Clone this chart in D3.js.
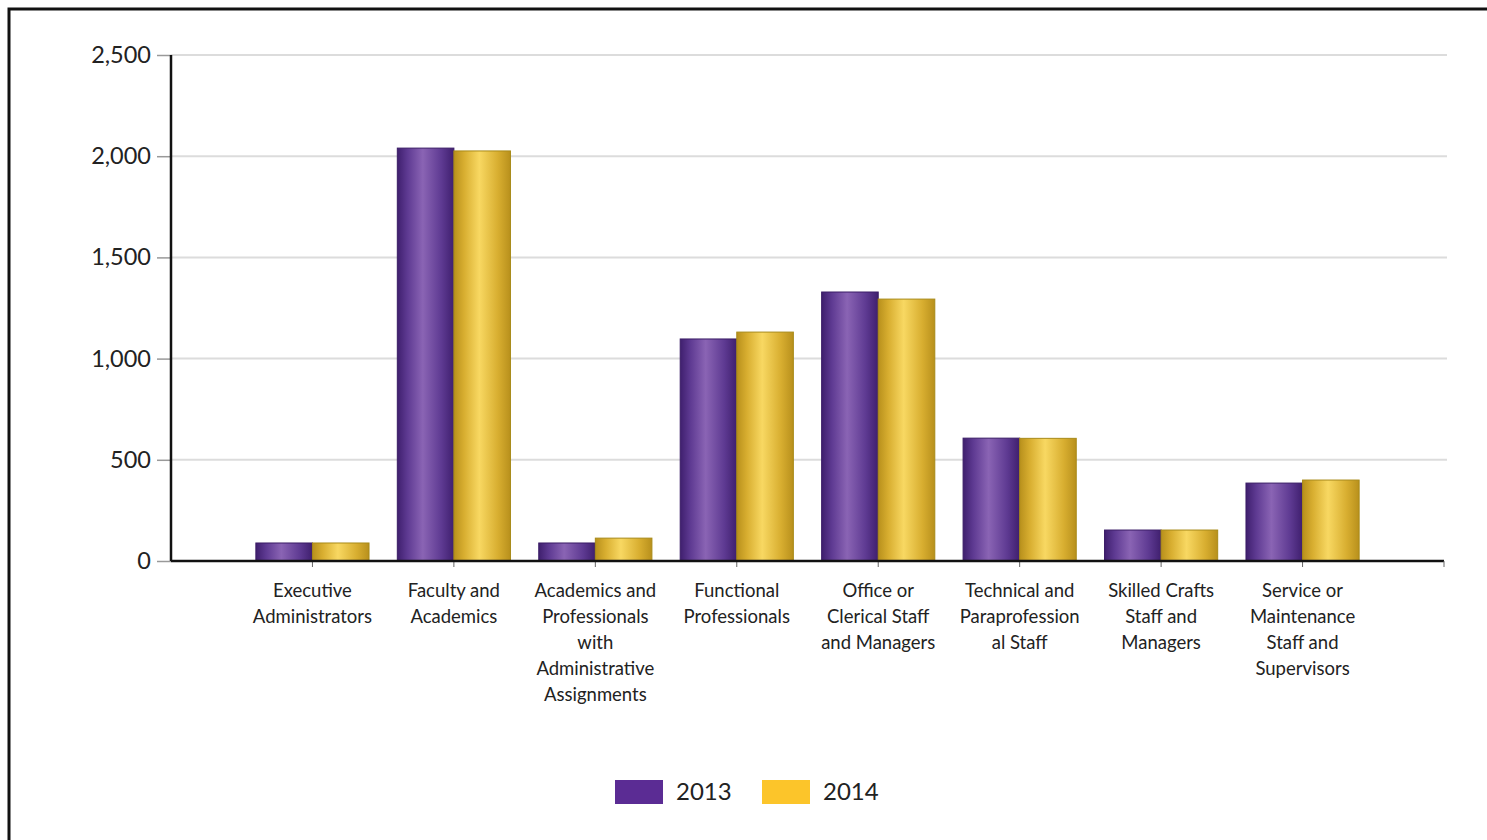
<!DOCTYPE html>
<html>
<head>
<meta charset="utf-8">
<script src="https://cdn.jsdelivr.net/npm/d3@7"></script>
<style>
  body { margin: 0; background: #fff; }
  svg { display: block; }
</style>
</head>
<body>
<div id="chart"></div>
<script>
var categories = [
  'Executive Administrators',
  'Faculty and Academics',
  'Academics and Professionals with Administrative Assignments',
  'Functional Professionals',
  'Office or Clerical Staff and Managers',
  'Technical and Paraprofessional Staff',
  'Skilled Crafts Staff and Managers',
  'Service or Maintenance Staff and Supervisors'
];
// wrapped the way the original chart breaks them
var category_lines = [
  ['Executive', 'Administrators'],
  ['Faculty and', 'Academics'],
  ['Academics and', 'Professionals', 'with', 'Administrative', 'Assignments'],
  ['Functional', 'Professionals'],
  ['Office or', 'Clerical Staff', 'and Managers'],
  ['Technical and', 'Paraprofession', 'al Staff'],
  ['Skilled Crafts', 'Staff and', 'Managers'],
  ['Service or', 'Maintenance', 'Staff and', 'Supervisors']
];
var series_names = ['2013', '2014'];
var values_2013 = [89, 2040, 89, 1097, 1329, 607, 153, 385];
var values_2014 = [89, 2026, 113, 1131, 1294, 606, 153, 400];
var y_ticks = [0, 500, 1000, 1500, 2000, 2500];

var width = 1487, height = 840;
var plot = {left: 171, right: 1444, top: 55, bottom: 561};

var svg = d3.select('#chart').append('svg')
  .attr('width', width)
  .attr('height', height);

var defs = svg.append('defs');
function cylinder(id, edge, mid, light) {
  var g = defs.append('linearGradient').attr('id', id)
    .attr('x1', '0%').attr('x2', '100%').attr('y1', '0%').attr('y2', '0%');
  g.append('stop').attr('offset', '0%').attr('stop-color', edge);
  g.append('stop').attr('offset', '18%').attr('stop-color', mid);
  g.append('stop').attr('offset', '45%').attr('stop-color', light);
  g.append('stop').attr('offset', '78%').attr('stop-color', mid);
  g.append('stop').attr('offset', '100%').attr('stop-color', edge);
}
cylinder('grad-2013', '#3f1f6e', '#5e3a92', '#8a64b4');
cylinder('grad-2014', '#b8901c', '#d8ae30', '#f8d862');

var fills = {'2013': 'url(#grad-2013)', '2014': 'url(#grad-2014)'};
var legend_colors = {'2013': '#5b2c94', '2014': '#fcc52a'};

// outer frame
svg.append('rect')
  .attr('x', 9).attr('y', 9)
  .attr('width', 1520).attr('height', 880)
  .attr('fill', 'none')
  .attr('stroke', '#111')
  .attr('stroke-width', 3);

var x = d3.scaleBand()
  .domain(categories)
  .range([plot.left, plot.right])
  .paddingInner(0)
  .paddingOuter(0.5);

var x_inner = d3.scaleBand()
  .domain(series_names)
  .range([x.bandwidth() * 0.1, x.bandwidth() * 0.9]);

var y = d3.scaleLinear()
  .domain([0, 2500])
  .range([plot.bottom, plot.top]);

// grid
svg.append('g')
  .selectAll('line')
  .data(y_ticks.filter(d => d > 0))
  .enter()
  .append('line')
  .attr('x1', plot.left)
  .attr('x2', 1447)
  .attr('y1', d => y(d))
  .attr('y2', d => y(d))
  .attr('stroke', '#dcdcdc')
  .attr('stroke-width', 2);

// y axis
var y_axis = svg.append('g')
  .attr('transform', 'translate(' + plot.left + ',0)')
  .call(d3.axisLeft(y).tickValues(y_ticks).tickFormat(d3.format(',')).tickSize(14).tickPadding(6));
y_axis.select('.domain').remove();
y_axis.selectAll('.tick line').attr('stroke', '#999').attr('stroke-width', 1.5);
y_axis.selectAll('.tick text')
  .style('font-family', 'Lato, "Open Sans", sans-serif')
  .style('font-size', '23.5px')
  .attr('fill', '#222');
svg.append('line')
  .attr('x1', plot.left).attr('x2', plot.left)
  .attr('y1', plot.top).attr('y2', plot.bottom)
  .attr('stroke', '#111').attr('stroke-width', 2.5);

// bars
var rows = categories.map((c, i) => ({cat: c, '2013': values_2013[i], '2014': values_2014[i]}));

var groups = svg.append('g')
  .selectAll('g')
  .data(rows)
  .enter()
  .append('g')
  .attr('transform', d => 'translate(' + x(d.cat) + ',0)');

groups.selectAll('rect')
  .data(d => series_names.map(s => ({key: s, value: d[s]})))
  .enter()
  .append('rect')
  .attr('x', d => x_inner(d.key))
  .attr('width', x_inner.bandwidth())
  .attr('y', d => y(d.value))
  .attr('height', d => y(0) - y(d.value))
  .attr('fill', d => fills[d.key])
  .attr('stroke', d => d.key === '2013' ? '#3a1c66' : '#a88a18')
  .attr('stroke-width', 1);

// x axis
var x_axis = svg.append('g')
  .attr('transform', 'translate(0,' + plot.bottom + ')')
  .call(d3.axisBottom(x).tickSize(6).tickFormat(''));
x_axis.select('.domain').remove();
x_axis.selectAll('.tick line').attr('stroke', '#666').attr('stroke-width', 1);
svg.append('line')
  .attr('x1', plot.left).attr('x2', plot.right)
  .attr('y1', plot.bottom).attr('y2', plot.bottom)
  .attr('stroke', '#111').attr('stroke-width', 2.5);
svg.append('line')
  .attr('x1', plot.right).attr('x2', plot.right)
  .attr('y1', plot.bottom).attr('y2', plot.bottom + 6)
  .attr('stroke', '#666').attr('stroke-width', 1);

// category labels
var cat_labels = svg.append('g')
  .selectAll('text')
  .data(categories)
  .enter()
  .append('text')
  .attr('x', d => x(d) + x.bandwidth() / 2)
  .attr('y', 597)
  .attr('text-anchor', 'middle')
  .style('font-family', 'Lato, "Open Sans", sans-serif')
  .style('font-size', '18.5px')
  .attr('fill', '#222');

cat_labels.selectAll('tspan')
  .data((d, i) => category_lines[i])
  .enter()
  .append('tspan')
  .attr('x', function(){ return d3.select(this.parentNode).attr('x'); })
  .attr('dy', (d, i) => i === 0 ? 0 : 26)
  .text(d => d);

// legend
var legend_items = [
  {key: '2013', x: 615},
  {key: '2014', x: 762}
];
var legend = svg.append('g')
  .selectAll('g')
  .data(legend_items)
  .enter()
  .append('g')
  .attr('transform', d => 'translate(' + d.x + ',780)');

legend.append('rect')
  .attr('width', 48)
  .attr('height', 24)
  .attr('fill', d => legend_colors[d.key]);

legend.append('text')
  .attr('x', 61)
  .attr('y', 20)
  .style('font-family', 'Lato, "Open Sans", sans-serif')
  .style('font-size', '24px')
  .attr('fill', '#222')
  .text(d => d.key);
</script>
</body>
</html>
